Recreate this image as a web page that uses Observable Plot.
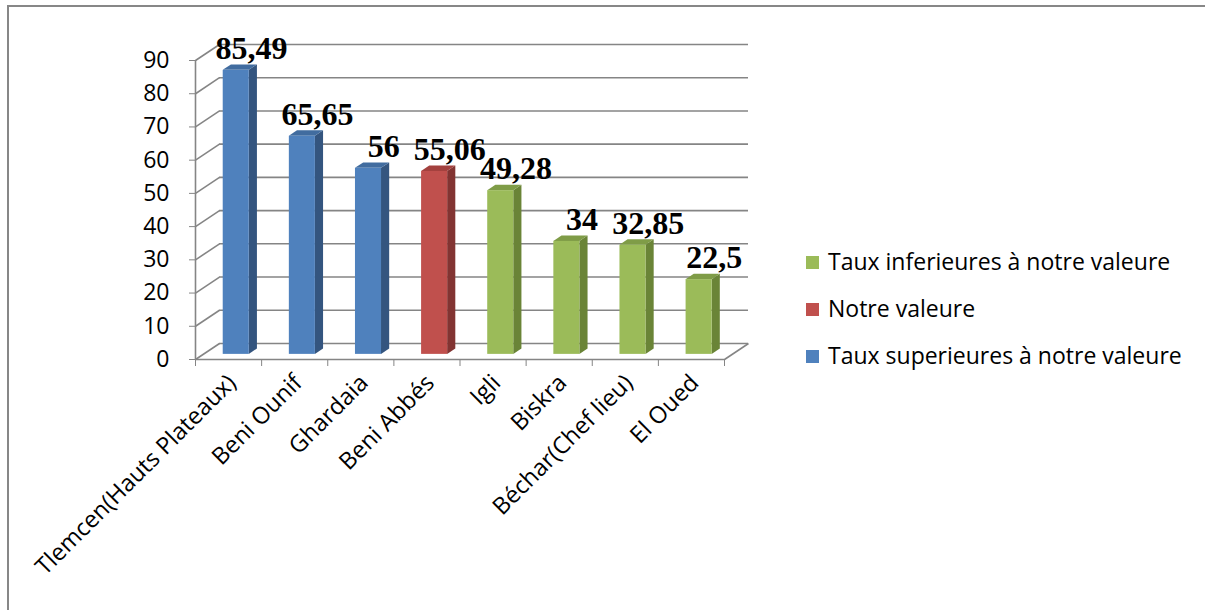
<!DOCTYPE html>
<html>
<head>
<meta charset="utf-8">
<script src="https://cdn.jsdelivr.net/npm/d3@7"></script>
<script src="https://cdn.jsdelivr.net/npm/@observablehq/plot@0.6"></script>
<style>
  html, body { margin: 0; padding: 0; background: #ffffff; }
  #wrap { position: relative; width: 1205px; height: 610px; overflow: hidden; font-family: "Open Sans", sans-serif; }
  #frame { position: absolute; left: 7px; top: 5px; width: 1300px; height: 700px; border-left: 2px solid #878787; border-top: 2px solid #878787; }
  #chart { position: absolute; left: 0; top: 0; }
  #legend { position: absolute; left: 806px; top: 238px; }
  .item { position: relative; height: 47px; font-size: 23px; color: #000; white-space: nowrap; }
  .sw { position: absolute; left: 0; top: 18px; width: 13px; height: 13px; }
  .lab { position: absolute; left: 22px; top: 8px; line-height: 30px; }
</style>
</head>
<body>
<div id="wrap">
  <div id="frame"></div>
  <div id="chart"></div>
  <div id="legend"></div>
</div>
<script>
// ---- data ----
const categories = ["Tlemcen(Hauts Plateaux)", "Beni Ounif", "Ghardaia", "Beni Abbés", "Igli", "Biskra", "Béchar(Chef lieu)", "El Oued"];
const values = [85.49, 65.65, 56, 55.06, 49.28, 34, 32.85, 22.5];
const groups = ["sup", "sup", "sup", "notre", "inf", "inf", "inf", "inf"];
const seriesKeys = ["inf", "notre", "sup"];
const seriesNames = ["Taux inferieures à notre valeure", "Notre valeure", "Taux superieures à notre valeure"];
const frontColors = ["#9bbb59", "#c0504d", "#4f81bd"];
const sideColors = ["#6a8437", "#823432", "#34557f"];
const topColors = ["#7f9c47", "#a3413e", "#416c9f"];
const yTicks = [0, 10, 20, 30, 40, 50, 60, 70, 80, 90];

// ---- 3D-ish geometry constants (in data units) ----
const DX = 0.363, DY = 4.82;   // depth of the floor / walls
const F1 = 0.32, F2 = 0.66;    // bar front / back depth fractions
const HW = 0.197;              // half width of a bar
const grid = "#858585";

const si = g => seriesKeys.indexOf(g);
const bars = categories.map((c, i) => ({c, i, v: values[i], g: groups[i]}));
const fmt = v => String(v).replace(".", ",");

const sidePts = bars.flatMap(b => [
  {i: b.i, g: b.g, x: b.i + 0.5 + HW + F1 * DX, y1: F1 * DY, y2: b.v + F1 * DY},
  {i: b.i, g: b.g, x: b.i + 0.5 + HW + F2 * DX, y1: F2 * DY, y2: b.v + F2 * DY}
]);
const topPts = bars.flatMap(b => [
  {i: b.i, g: b.g, y: b.v + F1 * DY, x1: b.i + 0.5 - HW + F1 * DX, x2: b.i + 0.5 + HW + F1 * DX},
  {i: b.i, g: b.g, y: b.v + F2 * DY, x1: b.i + 0.5 - HW + F2 * DX, x2: b.i + 0.5 + HW + F2 * DX}
]);

const plot = Plot.plot({
  width: 1205,
  height: 610,
  marginLeft: 195,
  marginRight: 481,
  marginTop: 60,
  marginBottom: 251,
  x: {domain: [0, categories.length]},
  y: {domain: [0, 90]},
  style: {fontFamily: "Open Sans, sans-serif", fontSize: "23px", color: "#000", background: "transparent", overflow: "visible"},
  marks: [
    // back wall gridlines
    Plot.ruleY(yTicks, {y: d => d + DY, x1: () => DX, x2: () => categories.length + DX, stroke: grid, strokeWidth: 1.6}),
    // side wall gridlines
    Plot.link(yTicks, {x1: () => 0, y1: d => d, x2: () => DX, y2: d => d + DY, stroke: grid, strokeWidth: 1.6}),
    // floor right edge
    Plot.link([0], {x1: () => categories.length, y1: () => 0, x2: () => categories.length + DX, y2: () => DY, stroke: grid, strokeWidth: 1.6}),
    // front axes
    Plot.ruleX([0], {y1: 0, y2: 90, stroke: grid, strokeWidth: 1.6}),
    Plot.ruleY([0], {x1: 0, x2: categories.length, stroke: grid, strokeWidth: 1.6}),
    // bars: side, top, front
    Plot.areaY(sidePts, {x: "x", y1: "y1", y2: "y2", z: "i", fill: d => sideColors[si(d.g)], curve: "linear"}),
    Plot.areaX(topPts, {y: "y", x1: "x1", x2: "x2", z: "i", fill: d => topColors[si(d.g)], curve: "linear"}),
    Plot.rect(bars, {x1: d => d.i + 0.5 - HW + F1 * DX, x2: d => d.i + 0.5 + HW + F1 * DX, y1: () => F1 * DY, y2: d => d.v + F1 * DY, fill: d => frontColors[si(d.g)]}),
    // value labels
    Plot.text(bars, {x: d => d.i + 0.5 + F2 * DX, y: d => d.v + F2 * DY, text: d => fmt(d.v), dx: 7, dy: -6, lineAnchor: "bottom", fontFamily: "Liberation Serif, serif", fontWeight: "bold", fontSize: 32, fill: "#000"}),
    // category labels
    Plot.text(bars, {x: d => d.i + 0.5, y: () => 0, text: "c", rotate: -45, textAnchor: "end", lineAnchor: "top", dx: -3, dy: 13, fontSize: 23.5, fill: "#000"}),
    // axes
    Plot.axisY({ticks: yTicks, tickSize: 6, tickPadding: 20, stroke: grid, fill: "#000", fontSize: 23, label: null}),
    Plot.axisX({ticks: d3.range(0, categories.length + 1), tickSize: 7, tickFormat: () => "", stroke: grid, label: null})
  ]
});
document.getElementById("chart").appendChild(plot);

// legend
const legend = document.getElementById("legend");
seriesNames.forEach((name, k) => {
  const item = document.createElement("div");
  item.className = "item";
  const sw = document.createElement("div");
  sw.className = "sw";
  sw.style.background = frontColors[k];
  const lab = document.createElement("div");
  lab.className = "lab";
  lab.textContent = name;
  item.appendChild(sw);
  item.appendChild(lab);
  legend.appendChild(item);
});
</script>
</body>
</html>
